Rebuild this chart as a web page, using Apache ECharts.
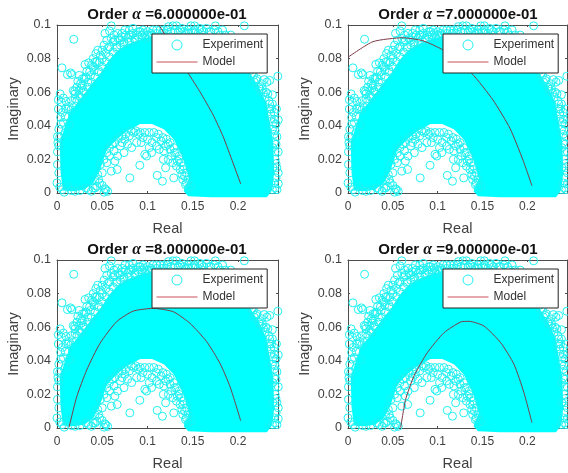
<!DOCTYPE html>
<html><head><meta charset="utf-8">
<style>html,body{margin:0;padding:0;background:#fff}#c{width:568px;height:473px}</style>
<script src="https://cdn.jsdelivr.net/npm/echarts@6/dist/echarts.min.js"></script>
</head><body><div id="c"></div>
<script>
// Experiment: individually readable circles.
const experimentPoints = [
[.0185,.0915],[.0055,.0745],[.0115,.0705],[.015,.0715],[.0165,.0705],[.0245,.07],[.023,.0665],[.0195,.0605],[.0035,.059],[.007,.0565],[.0015,.0555],[.0015,.05],[.005,.054],[.009,.0455],[.0135,.0515],[.0155,.0495],[.01,.0545],[.0135,.0405],[.0005,.0335],[.003,.033],
[.027,.0625],[.029,.061],[.031,.0765],[.035,.0775],[.04,.08],[.043,.083],[.045,.085],[.033,.0725],[.037,.07],[.041,.073],[.028,.068],[.047,.078],[.05,.085],[.055,.091],[.053,.095],[.06,.0995],[.058,.0965],[.063,.094],[.067,.095],[.072,.095],[.075,.097],[.08,.097],[.084,.098],[.09,.096],[.095,.097],[.1,.096],[.105,.094],[.11,.095],[.118,.097],
[.123,.099],[.128,.0995],[.132,.0995],[.138,.098],[.145,.097],[.148,.0995],[.152,.0995],[.158,.098],[.165,.098],[.175,.0995],[.183,.097],[.207,.0995],[.19,.092],[.197,.088],[.204,.082],[.21,.077],
[.244,.0695],[.235,.067],[.232,.066],[.229,.0675],[.226,.065],[.223,.063],[.238,.0585],[.234,.055],[.228,.0595],[.2425,.05],[.24,.048],[.237,.05],[.2445,.0435],[.242,.041],[.24,.044],[.236,.044],[.243,.0335],[.24,.035],[.2445,.0245],[.241,.0245],[.2445,.012],[.242,.0175],[.2445,.0055],[.241,.003],[.2385,.015],[.2385,.027],[.22,.067],[.217,.07],[.214,.073],[.231,.06],[.235,.05],[.238,.038],
[.0005,.0245],[.0005,.017],[.002,.012],[0,.006],[.003,.0035],[.006,.002],[.008,.0005],[.012,.004],[.016,.0015],[.02,.001],[.0255,.0015],[.038,.001],[.042,.003],[.05,.0045],[.054,.002],[.056,.001],[.052,.0005],[.053,.0025],
[.0805,.009],[.0915,.0165],[.1107,.0105],[.1165,.007],[.129,.009],[.12,.015],[.123,.02],[.128,.018],[.097,.023],[.099,.022],[.1045,.024],[.0665,.014],[.06,.013],[.074,.024],[.064,.019],[.0825,.027],[.088,.03],[.11,.028],[.1175,.02],[.1265,.022],[.136,.014],[.139,.008],[.132,.016],
[.07,.028],[.075,.032],[.08,.034],[.085,.036],[.09,.035],[.095,.033],[.1,.032],[.105,.03],[.11,.033],[.115,.031],[.12,.028],[.125,.026],[.13,.024],[.135,.02],[.14,.016],[.143,.012],[.145,.008],[.148,.004],
[.058,.022],[.055,.018],[.05,.012],[.046,.008],[.063,.025],[.067,.022],[.072,.03],[.078,.029],[.093,.03],[.102,.027],[.113,.026],[.118,.025],[.123,.029],[.133,.019],[.138,.011],[.142,.005],
[.012,.05],[.016,.055],[.02,.056],[.024,.058],[.007,.042],[.004,.041],[.009,.036],[.002,.028],[.018,.061],[.022,.063],[.026,.065],[.03,.068],[.034,.066],[.038,.076],[.042,.078],[.046,.073],[.05,.08],[.054,.083],[.058,.087],[.062,.09],[.066,.087],[.07,.091],[.074,.09],[.078,.092],[.082,.094],[.086,.092],[.09,.093],[.094,.094],[.098,.092],[.102,.093],[.106,.097],[.114,.097],[.12,.095],[.126,.096],[.134,.096],[.142,.095],[.15,.096],[.156,.095],[.162,.096],[.17,.096],[.178,.096],[.186,.094],
[.001,.03],[.002,.038],[.004,.045],[.006,.048],[.01,.05],
[.022,.055],[.026,.057],[.03,.06],[.034,.063],[.038,.066],[.042,.069],[.046,.072],[.05,.075],[.054,.078],[.058,.081],[.062,.084],[.066,.086],[.07,.088],[.074,.089],[.08,.09],[.086,.091],
[.02,.059],[.024,.061],[.028,.064],[.032,.069],[.036,.072],[.04,.075],[.044,.078],[.048,.082],[.052,.088],[.056,.086],[.06,.092],[.064,.091],[.068,.092],[.072,.093],[.076,.094],[.08,.094],[.084,.095],[.088,.094],[.092,.096],[.096,.095],[.1,.094],[.104,.095],
[.11,.097],[.116,.095],[.122,.097],[.13,.097],[.136,.097],[.14,.096],[.146,.095],[.152,.097],[.16,.097],[.168,.096],[.174,.097],[.18,.094],[.188,.09],[.192,.094],
[.196,.085],[.2,.084],[.205,.079],[.208,.08],[.212,.075],[.215,.071],[.218,.066],[.221,.068],[.224,.062],[.227,.062],[.23,.057],[.233,.059],[.235,.053],[.238,.053],[.236,.047],[.239,.042],[.241,.037],[.24,.03],[.242,.029],[.241,.02],[.243,.015],[.242,.009],[.24,.006],[.243,.002],[.238,.002],
[.042,.008],[.045,.011],[.048,.017],[.052,.02],[.055,.024],[.058,.027],[.061,.029],[.064,.03],[.068,.033],[.072,.034],[.076,.035],[.082,.037],[.087,.037],[.092,.036],[.097,.036],[.102,.036],[.107,.036],[.112,.035],[.117,.033],[.121,.032],[.125,.03],[.129,.027],[.132,.024],[.135,.022],[.137,.018],[.139,.014],[.141,.01],[.143,.006],[.145,.003],[.047,.006],[.044,.004],[.04,.003],[.035,.002],[.032,.003]
];
// Saturated region of the experiment cloud, where the circles merge into solid colour.
const experimentSolidOutline = [
[.0066,.0015],[.004,.012],[.003,.03],[.009,.04],[.014,.048],[.02,.052],[.026,.056],[.033,.061],[.04,.066],[.048,.071],[.056,.078],[.062,.082],[.07,.086],[.08,.089],[.095,.092],[.11,.094],[.13,.095],[.16,.095],[.178,.094],[.193,.089],[.205,.08],[.215,.07],[.224,.062],[.231,.054],[.235,.042],[.239,.03],[.24,.012],[.238,.002],[.232,-.0025],[.17,-.0025],[.145,-.002],[.14,.001],[.146,.009],[.14,.02],[.129,.032],[.118,.038],[.105,.041],[.092,.041],[.078,.037],[.066,.032],[.055,.0256],[.0475,.0137],[.04,.006],[.03,.002],[.018,.001]
];
const model60 = [[.1127,.1],[.1449,.0714],[.1577,.0605],[.1724,.0466],[.1835,.0337],[.1945,.0179],[.203,.0054]];
const model70 = [[0,.0808],[.0279,.0901],[.0613,.0924],[.0836,.0906],[.1059,.0851],[.1379,.0712],[.1616,.0554],[.1806,.0385],[.1951,.0196],[.2051,.0043]];
const model80 = [[.0133,.0004],[.0218,.0186],[.0328,.0345],[.0475,.0504],[.0659,.0633],[.0843,.0696],[.1064,.0712],[.1285,.0692],[.147,.0623],[.1654,.0514],[.1801,.0385],[.1912,.0246],[.203,.0043]];
const model90 = [[.0587,.0002],[.0643,.0171],[.0736,.031],[.0884,.0448],[.107,.0567],[.1256,.0631],[.1349,.0635],[.1516,.0607],[.1702,.0508],[.1851,.0379],[.1962,.021],[.2051,.0032]];
const orders = ['6.000000e-01','7.000000e-01','8.000000e-01','9.000000e-01'];
const models = [model60,model70,model80,model90];
const xMax = .2442, yMax = .1;

const boxes = [
 {l:57,r:278,t:25,b:193,tx:167},
 {l:348,r:567,t:25,b:193,tx:458},
 {l:57,r:278,t:260,b:428,tx:167},
 {l:348,r:567,t:260,b:428,tx:458}];
const W=568,H=473, AX='#4d4d4d', CY='#1ff2f2';
const opt={animation:false,backgroundColor:'#fff',title:[],grid:[],xAxis:[],yAxis:[],legend:[],series:[]};
boxes.forEach((p,i)=>{
 opt.grid.push({left:p.l,top:p.t,width:p.r-p.l,height:p.b-p.t,containLabel:false});
 opt.title.push({left:p.tx,top:p.t-18,textAlign:'center',padding:0,
  text:'{b|Order }{a|α}{b| ='+orders[i]+'}',
  textStyle:{rich:{b:{fontFamily:'Liberation Sans',fontWeight:'bold',fontSize:15,color:'#111'},
   a:{fontFamily:'Liberation Serif',fontStyle:'italic',fontSize:16,color:'#111'}}}});
 const base=(pos,g)=>({gridIndex:g,position:pos,type:'value',splitLine:{show:false},z:1,
   axisLine:{show:true,onZero:false,lineStyle:{color:AX,width:1}},
   axisTick:{show:true,inside:true,length:2,lineStyle:{color:AX}}});
 opt.xAxis.push(Object.assign(base('bottom',i),{min:0,max:xMax,interval:.05,name:'Real',nameLocation:'middle',nameGap:28,
   nameTextStyle:{fontFamily:'Liberation Sans',fontSize:14.5,color:'#404040'},
   axisLabel:{showMaxLabel:false,margin:8,fontFamily:'Liberation Sans',fontSize:12,color:'#404040',formatter:v=>String(+v.toFixed(2))}}));
 opt.xAxis.push(Object.assign(base('top',i),{min:0,max:xMax,interval:.05,axisLabel:{show:false}}));
 opt.yAxis.push(Object.assign(base('left',i),{min:0,max:yMax,interval:.02,name:'Imaginary',nameLocation:'middle',nameGap:36,
   nameTextStyle:{fontFamily:'Liberation Sans',fontSize:14.5,color:'#404040'},
   axisLabel:{margin:6,fontFamily:'Liberation Sans',fontSize:12.5,color:'#404040',formatter:v=>String(+v.toFixed(2))}}));
 opt.yAxis.push(Object.assign(base('right',i),{min:0,max:yMax,interval:.02,axisLabel:{show:false}}));
 const xi=i*2, yi=i*2;
 opt.series.push({type:'custom',silent:true,xAxisIndex:xi,yAxisIndex:yi,clip:false,z:2,
   data:[0],renderItem:(params,api)=>({type:'polygon',
     shape:{points:experimentSolidOutline.map(pt=>api.coord(pt))},style:{fill:'#00ffff'}})});
 opt.series.push({type:'scatter',name:'Experiment',xAxisIndex:xi,yAxisIndex:yi,clip:false,z:3,data:experimentPoints,
   symbol:'circle',symbolSize:8,itemStyle:{color:'rgba(0,0,0,0)',borderColor:CY,borderWidth:1,opacity:1}});
 opt.series.push({type:'line',name:'Model',xAxisIndex:xi,yAxisIndex:yi,z:4,data:models[i],smooth:.2,showSymbol:false,symbol:'none',
   lineStyle:{color:'#7d3a48',width:1},itemStyle:{color:'#c8505a'}});
 opt.legend.push({left:p.l+95,top:p.t+9,orient:'vertical',z:10,
   backgroundColor:'#fff',borderColor:'#222',borderWidth:1,borderRadius:0,padding:[5,4,5,4],itemGap:5,itemWidth:41,itemHeight:10,
   selectedMode:false,textStyle:{fontFamily:'Liberation Sans',fontSize:12,color:'#333'},
   data:[{name:'Experiment',icon:'circle',itemStyle:{color:'#fff',borderColor:CY,borderWidth:1}},
     {name:'Model',itemStyle:{color:'rgba(0,0,0,0)',borderColor:'rgba(0,0,0,0)',borderWidth:0,opacity:0},lineStyle:{color:'#c8505a',width:1}}]});
});
const chart=echarts.init(document.getElementById('c'),null,{renderer:'canvas',width:W,height:H});
chart.setOption(opt);
</script></body></html>
